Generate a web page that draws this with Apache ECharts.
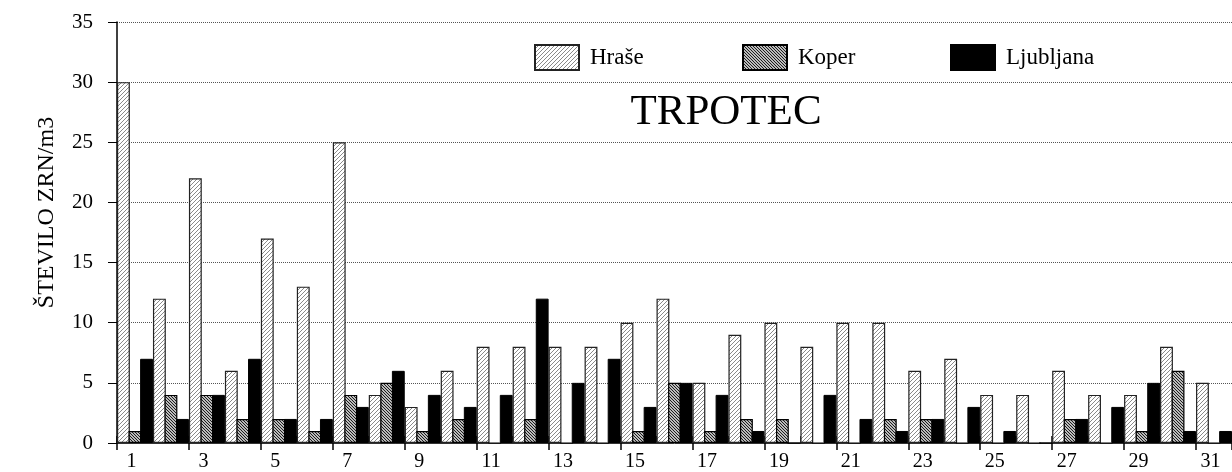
<!DOCTYPE html>
<html>
<head>
<meta charset="utf-8">
<script src="https://cdn.jsdelivr.net/npm/echarts@6/dist/echarts.min.js"></script>
<style>
html,body{margin:0;padding:0;background:#fff;}
#chart{width:1232px;height:472px;}
</style>
</head>
<body>
<div id="chart"></div>
<script>
// ---- data ----
var categories = ['1','2','3','4','5','6','7','8','9','10','11','12','13','14','15','16','17','18','19','20','21','22','23','24','25','26','27','28','29','30','31'];
var hrase     = [30,12,22,6,17,13,25,4,3,6,8,8,8,8,10,12,5,9,10,8,10,10,6,7,4,4,6,4,4,8,5];
var koper     = [1,4,4,2,2,1,4,5,1,2,0,2,0,0,1,5,1,2,2,0,0,2,2,0,0,0,2,0,1,6,0];
var ljubljana = [7,2,4,7,2,2,3,6,4,3,4,12,5,7,3,5,4,1,0,4,2,1,2,3,1,0,2,3,5,1,1];
var seriesNames = ['Hraše','Koper','Ljubljana'];
var yTicks = [0,5,10,15,20,25,30,35];
var titleText = 'TRPOTEC';
var yName = 'ŠTEVILO ZRN/m3';

function hatch(size, bg, fg, lw, dir) {
  var c = document.createElement('canvas');
  c.width = size; c.height = size;
  var g = c.getContext('2d');
  g.fillStyle = bg; g.fillRect(0, 0, size, size);
  g.strokeStyle = fg; g.lineWidth = lw;
  g.beginPath();
  for (var k = -1; k <= 1; k++) {
    if (dir === '/') {
      g.moveTo(k * size - 1, size + 1); g.lineTo(k * size + size + 1, -1);
    } else {
      g.moveTo(k * size - 1, -1); g.lineTo(k * size + size + 1, size + 1);
    }
  }
  g.stroke();
  return c;
}
var hrasePattern = {image: hatch(4, '#ffffff', '#8a8a8a', 1, '/'), repeat: 'repeat'};
var koperPattern = {image: hatch(3, '#ffffff', '#111111', 1.1, '\\'), repeat: 'repeat'};

var FONT = '"Liberation Serif","Times New Roman",serif';
var chart = echarts.init(document.getElementById('chart'), null, {renderer: 'canvas'});

function legendAt(name, left) {
  return {
    data: [name], left: left, top: 44, padding: 0, icon: 'rect',
    itemWidth: 44, itemHeight: 25,
    selectedMode: false,
    textStyle: {fontFamily: FONT, fontSize: 23, color: '#000', padding: [0, 0, 0, 6]}
  };
}

var option = {
  animation: false,
  backgroundColor: '#fff',
  title: {
    text: titleText, left: 721, top: 86, textAlign: 'center',
    textStyle: {fontFamily: FONT, fontSize: 43, fontWeight: 'normal', color: '#000'}
  },
  legend: [legendAt(seriesNames[0], 534), legendAt(seriesNames[1], 742), legendAt(seriesNames[2], 950)],
  grid: {left: 117, right: 0, top: 22, bottom: 29, containLabel: false},
  xAxis: [{
    type: 'category', data: categories, position: 'bottom',
    axisLine: {lineStyle: {color: '#333', width: 1}},
    axisTick: {show: true, length: 7, lineStyle: {color: '#000', width: 1.5}, alignWithLabel: false},
    axisLabel: {
      interval: 1, margin: 9, fontFamily: FONT, fontSize: 20, color: '#000',
      padding: [0, 7, 0, 0]
    },
    splitLine: {show: false}
  }, {
    type: 'category', data: categories, position: 'bottom', offset: 0,
    axisLine: {show: false},
    axisTick: {show: true, inside: true, length: 7, lineStyle: {color: '#000', width: 1.5}},
    axisLabel: {show: false},
    splitLine: {show: false}
  }],
  yAxis: {
    type: 'value', min: yTicks[0], max: yTicks[yTicks.length - 1], interval: 5,
    name: yName, nameLocation: 'middle', nameGap: 58, nameRotate: 90,
    nameTextStyle: {fontFamily: FONT, fontSize: 24, color: '#000', padding: [0, 0, 0, 40]},
    axisLine: {show: true, lineStyle: {color: '#000', width: 1.5}},
    axisTick: {show: true, length: 9, lineStyle: {color: '#000', width: 1}},
    axisLabel: {margin: 24, fontFamily: FONT, fontSize: 21, color: '#000'},
    splitLine: {show: true, lineStyle: {color: '#555', type: 'dotted', width: 1}}
  },
  series: [{
    name: seriesNames[0], type: 'bar', data: hrase,
    barGap: '-10%', barCategoryGap: '0%',
    itemStyle: {color: hrasePattern, borderColor: '#222', borderWidth: 1.2}
  }, {
    name: seriesNames[1], type: 'bar', data: koper,
    barGap: '-10%', barCategoryGap: '0%',
    itemStyle: {color: koperPattern, borderColor: '#000', borderWidth: 1.2}
  }, {
    name: seriesNames[2], type: 'bar', data: ljubljana,
    barGap: '-10%', barCategoryGap: '0%',
    itemStyle: {color: '#000', borderColor: '#000', borderWidth: 1}
  }]
};
chart.setOption(option);
</script>
</body>
</html>
